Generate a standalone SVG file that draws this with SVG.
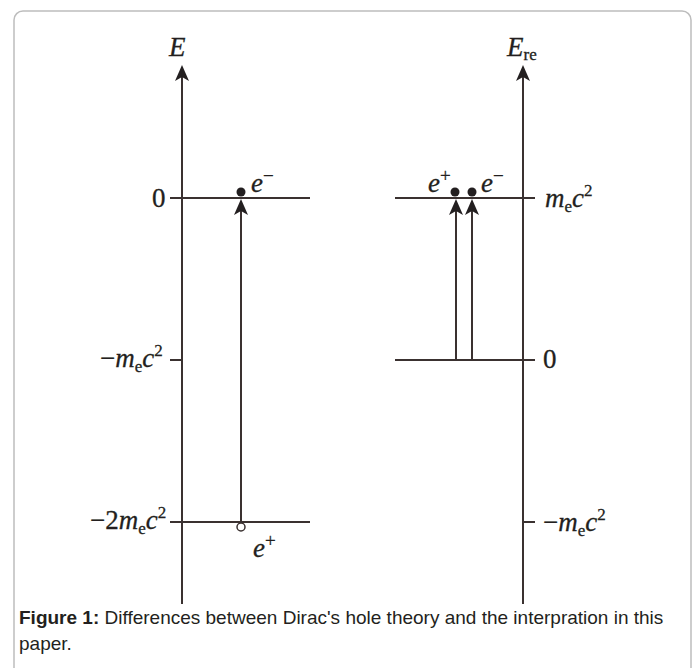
<svg xmlns="http://www.w3.org/2000/svg" width="699" height="668" viewBox="0 0 699 668">
<style>
.ln{stroke:#3a3130;stroke-width:2;fill:none}
.t{font-family:"Liberation Serif",serif;fill:#231f20;stroke:#231f20;stroke-width:0.3;font-size:27px}
.i{font-style:italic}
.s{font-size:17px;font-style:normal}
.p{font-size:19px;font-style:normal}
.cap{font-family:"Liberation Sans",Arial,sans-serif;font-size:19px;fill:#231f20}
</style>
<defs>
<path id="ah" d="M0,0 L-7,16 L0,12 L7,16 Z" fill="#231f20"/>
</defs>
<rect x="14" y="11" width="677" height="680" rx="9" fill="#fff" stroke="#bdbdbd" stroke-width="1.5"/>
<g id="connectors">
<line class="ln" x1="182" y1="72" x2="182" y2="604"/>
<use href="#ah" x="182" y="65"/>
<line class="ln" x1="523" y1="72" x2="523" y2="604"/>
<use href="#ah" x="523" y="65"/>
<line class="ln" x1="170" y1="198" x2="310" y2="198"/>
<line class="ln" x1="170" y1="360" x2="182" y2="360"/>
<line class="ln" x1="170" y1="522" x2="310" y2="522"/>
<line class="ln" x1="241" y1="522" x2="241" y2="208"/>
<use href="#ah" x="241" y="199"/>
<line class="ln" x1="395" y1="198" x2="535" y2="198"/>
<line class="ln" x1="395" y1="360" x2="535" y2="360"/>
<line class="ln" x1="523" y1="522" x2="535" y2="522"/>
<line class="ln" x1="456" y1="360" x2="456" y2="208"/>
<use href="#ah" x="456" y="199"/>
<line class="ln" x1="472" y1="360" x2="472" y2="208"/>
<use href="#ah" x="472" y="199"/>
</g>
<g id="dots">
<circle cx="241" cy="192" r="4.5" fill="#231f20"/>
<circle cx="241" cy="527" r="4" fill="#fff" stroke="#3a3130" stroke-width="1.5"/>
<circle cx="455" cy="192" r="4.5" fill="#231f20"/>
<circle cx="472" cy="192" r="4.5" fill="#231f20"/>
</g>
<g id="labels">
<text class="t i" x="169" y="56">E</text>
<text class="t i" x="507" y="56">E<tspan class="s" dy="4">re</tspan></text>
<text class="t" x="152" y="207">0</text>
<text class="t" x="100" y="367">−<tspan class="i">m</tspan><tspan class="s" dy="5">e</tspan><tspan class="i" dy="-5">c</tspan><tspan class="s" dy="-11">2</tspan></text>
<text class="t" x="90" y="529">−2<tspan class="i">m</tspan><tspan class="s" dy="5">e</tspan><tspan class="i" dy="-5">c</tspan><tspan class="s" dy="-11">2</tspan></text>
<text class="t i" x="251" y="192">e<tspan class="p" dy="-10">−</tspan></text>
<text class="t i" x="253" y="557">e<tspan class="p" dy="-10">+</tspan></text>
<text class="t i" x="428" y="192">e<tspan class="p" dy="-10">+</tspan></text>
<text class="t i" x="481" y="192">e<tspan class="p" dy="-10">−</tspan></text>
<text class="t" x="545" y="207"><tspan class="i">m</tspan><tspan class="s" dy="5">e</tspan><tspan class="i" dy="-5">c</tspan><tspan class="s" dy="-11">2</tspan></text>
<text class="t" x="543" y="368">0</text>
<text class="t" x="543" y="531">−<tspan class="i">m</tspan><tspan class="s" dy="5">e</tspan><tspan class="i" dy="-5">c</tspan><tspan class="s" dy="-11">2</tspan></text>
</g>
<g id="caption">
<text class="cap" x="19" y="624"><tspan font-weight="bold">Figure 1:</tspan> Differences between Dirac's hole theory and the interpration in this</text>
<text class="cap" x="19" y="650">paper.</text>
</g>
</svg>
